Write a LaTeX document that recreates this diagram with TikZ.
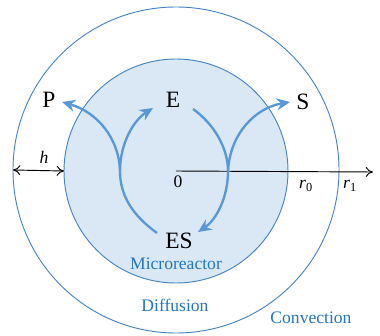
\documentclass[tikz,border=0pt]{standalone}
\usepackage{fontspec}
\setmainfont{Liberation Serif}
\usetikzlibrary{arrows.meta}
\definecolor{ringblue}{RGB}{72,132,194}
\definecolor{flowblue}{RGB}{88,152,214}
\definecolor{textblue}{RGB}{36,118,188}
\definecolor{cellfill}{RGB}{218,232,245}
\begin{document}
\begin{tikzpicture}[x=0.03cm,y=-0.03cm,
    ring/.style={circle,draw=ringblue,line width=0.8pt,inner sep=0pt,outer sep=0pt},
    flow/.style={-{Stealth[length=4mm,width=3.6mm,inset=1.3mm]},flowblue,line width=2pt},
    spec/.style={font=\fontsize{20}{22}\selectfont},
    zone/.style={font=\fontsize{15}{17}\selectfont,textblue},
    lbl/.style={font=\fontsize{15}{17}\selectfont}]
    \useasboundingbox (0,0) rectangle (380,336);
    % Circles
    \node[ring,minimum size=9.78cm] (outer) at (176,170) {};
    \node[ring,fill=cellfill,minimum size=6.72cm] (inner) at (176,171) {};
    \coordinate (o) at (176,171);
    \coordinate (rend) at (373,172);
    % Labels
    \node[spec] (P) at (49,100) {P};
    \node[spec] (E) at (173,100) {E};
    \node[spec] (S) at (303,102) {S};
    \node[spec] (ES) at (179,241) {ES};
    \node[zone] (micro) at (176,264) {Microreactor};
    \node[zone] (diff) at (175,305) {Diffusion};
    \node[zone] (conv) at (311,318) {Convection};
    \node[lbl] (zero) at (178,182) {0};
    \node[lbl] (r0) at (306,186) {\textit{r}\textsubscript{0}};
    \node[lbl] (r1) at (350,186) {\textit{r}\textsubscript{1}};
    \node[lbl] (h) at (44,157) {\textit{h}};
    % Radius and gap
    \draw[-{To[length=2.2mm,width=3mm]},line width=0.8pt] (o) -- (rend);
    \draw[{To[length=2.2mm,width=3mm]}-{To[length=2.2mm,width=3mm]},line width=0.8pt] (outer.west) -- (inner.west);
    % Reaction cycle
    \coordinate (cuspL) at (120,171);
    \coordinate (cuspR) at (228,171);
    \draw[flow] (157,233) .. controls (132,215) and (120,195) .. (cuspL)
      .. controls (120,143) and (134,120) .. (153,108);
    \draw[flow] (cuspL) .. controls (119,138) and (97,112) .. (62,102);
    \draw[flow] (193,109) .. controls (214,124) and (228,148) .. (cuspR)
      .. controls (228,198) and (216,220) .. (198,232);
    \draw[flow] (cuspR) .. controls (230,134) and (255,108) .. (290,102);
\end{tikzpicture}
\end{document}
